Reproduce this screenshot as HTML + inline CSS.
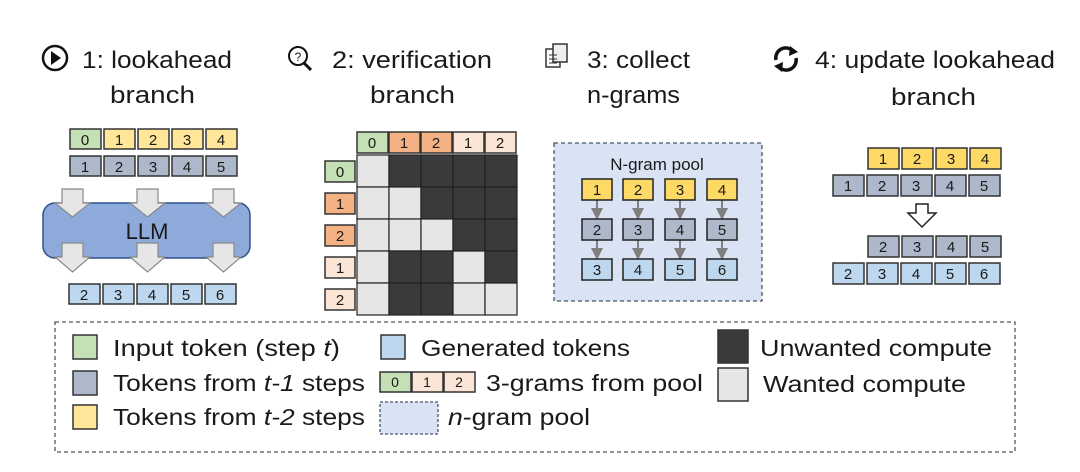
<!DOCTYPE html>
<html><head><meta charset="utf-8"><style>
html,body{margin:0;padding:0;background:#fff;}
svg{display:block;}
text{font-family:"Liberation Sans",sans-serif;fill:#1a1a1a;}
</style></head><body>
<svg width="1080" height="472" viewBox="0 0 1080 472" xmlns="http://www.w3.org/2000/svg">
<defs>
<marker id="ah" markerWidth="6" markerHeight="6" refX="3" refY="3" orient="auto"><path d="M0,0 L6,3 L0,6 z" fill="#7f7f7f"/></marker>
</defs>
<!-- Headers -->
<g font-size="24">
<circle cx="55" cy="58" r="12" fill="none" stroke="#111" stroke-width="2.5"/>
<path d="M51,51 L61,58 L51,65 z" fill="#111"/>
<text x="82" y="68" textLength="150" lengthAdjust="spacingAndGlyphs">1: lookahead</text>
<text x="110" y="103" textLength="85" lengthAdjust="spacingAndGlyphs">branch</text>

<circle cx="298" cy="56" r="9" fill="none" stroke="#111" stroke-width="2"/>
<line x1="304" y1="63" x2="311" y2="70" stroke="#111" stroke-width="3"/>
<text x="298" y="61" font-size="12" text-anchor="middle">?</text>
<text x="332" y="68" textLength="160" lengthAdjust="spacingAndGlyphs">2: verification</text>
<text x="370" y="103" textLength="85" lengthAdjust="spacingAndGlyphs">branch</text>

<rect x="546" y="49" width="14" height="18" fill="#fff" stroke="#333" stroke-width="1.5"/>
<rect x="553" y="44" width="14" height="18" fill="#eee" stroke="#333" stroke-width="1.5"/>
<line x1="549" y1="55" x2="557" y2="55" stroke="#333"/><line x1="549" y1="59" x2="557" y2="59" stroke="#333"/><line x1="549" y1="63" x2="557" y2="63" stroke="#333"/>
<text x="587" y="68" textLength="103" lengthAdjust="spacingAndGlyphs">3: collect</text>
<text x="587" y="103" textLength="93" lengthAdjust="spacingAndGlyphs">n-grams</text>

<path d="M776,60 A10,10 0 0 1 793,51" fill="none" stroke="#111" stroke-width="3.5"/>
<path d="M790,46 L798,52 L789,56 z" fill="#111"/>
<path d="M796,58 A10,10 0 0 1 779,67" fill="none" stroke="#111" stroke-width="3.5"/>
<path d="M782,72 L774,66 L783,62 z" fill="#111"/>
<text x="815" y="68" textLength="240" lengthAdjust="spacingAndGlyphs">4: update lookahead</text>
<text x="891" y="105" textLength="85" lengthAdjust="spacingAndGlyphs">branch</text>
</g>

<!-- Panel 1 -->
<g stroke="#333" stroke-width="1.5">
<rect x="70" y="129" width="31" height="20" fill="#c5e0b4"/>
<rect x="104" y="129" width="31" height="20" fill="#ffe699"/>
<rect x="138" y="129" width="31" height="20" fill="#ffe699"/>
<rect x="172" y="129" width="31" height="20" fill="#ffe699"/>
<rect x="206" y="129" width="31" height="20" fill="#ffe699"/>
<rect x="70" y="156" width="31" height="20" fill="#adb9ca"/>
<rect x="104" y="156" width="31" height="20" fill="#adb9ca"/>
<rect x="138" y="156" width="31" height="20" fill="#adb9ca"/>
<rect x="172" y="156" width="31" height="20" fill="#adb9ca"/>
<rect x="206" y="156" width="31" height="20" fill="#adb9ca"/>
<rect x="69" y="284" width="31" height="20" fill="#bdd7ee"/>
<rect x="103" y="284" width="31" height="20" fill="#bdd7ee"/>
<rect x="137" y="284" width="31" height="20" fill="#bdd7ee"/>
<rect x="171" y="284" width="31" height="20" fill="#bdd7ee"/>
<rect x="205" y="284" width="31" height="20" fill="#bdd7ee"/>
</g>
<g font-size="15" text-anchor="middle">
<text x="85" y="145">0</text><text x="119" y="145">1</text><text x="153" y="145">2</text><text x="187" y="145">3</text><text x="221" y="145">4</text>
<text x="85" y="172">1</text><text x="119" y="172">2</text><text x="153" y="172">3</text><text x="187" y="172">4</text><text x="221" y="172">5</text>
<text x="84" y="300">2</text><text x="118" y="300">3</text><text x="152" y="300">4</text><text x="186" y="300">5</text><text x="220" y="300">6</text>
</g>
<rect x="43" y="203" width="207" height="55" rx="12" fill="#8eaadb" stroke="#2f528f" stroke-width="1.5"/>
<text x="147" y="239" font-size="22" text-anchor="middle">LLM</text>
<g fill="#e7e6e6" stroke="#888" stroke-width="1.2">
<path d="M62,189 h21 v14 h7 l-17.5,14 l-17.5,-14 h7 z"/>
<path d="M137,189 h21 v14 h7 l-17.5,14 l-17.5,-14 h7 z"/>
<path d="M213,189 h21 v14 h7 l-17.5,14 l-17.5,-14 h7 z"/>
<path d="M62,243 h21 v14 h7 l-17.5,15 l-17.5,-15 h7 z"/>
<path d="M137,243 h21 v14 h7 l-17.5,15 l-17.5,-15 h7 z"/>
<path d="M213,243 h21 v14 h7 l-17.5,15 l-17.5,-15 h7 z"/>
</g>

<!-- Panel 2 grid -->
<g stroke="#333" stroke-width="1.5">
<rect x="357" y="132" width="31" height="21" fill="#c5e0b4"/>
<rect x="389" y="132" width="31" height="21" fill="#f4b183"/>
<rect x="421" y="132" width="31" height="21" fill="#f4b183"/>
<rect x="453" y="132" width="31" height="21" fill="#fbe5d6"/>
<rect x="485" y="132" width="31" height="21" fill="#fbe5d6"/>
<rect x="325" y="161" width="30" height="21" fill="#c5e0b4"/>
<rect x="325" y="193" width="30" height="21" fill="#f4b183"/>
<rect x="325" y="225" width="30" height="21" fill="#f4b183"/>
<rect x="325" y="257" width="30" height="21" fill="#fbe5d6"/>
<rect x="325" y="289" width="30" height="21" fill="#fbe5d6"/>
</g>
<g font-size="15" text-anchor="middle">
<text x="372" y="148">0</text><text x="404" y="148">1</text><text x="436" y="148">2</text><text x="468" y="148">1</text><text x="500" y="148">2</text>
<text x="340" y="177">0</text><text x="340" y="209">1</text><text x="340" y="241">2</text><text x="340" y="273">1</text><text x="340" y="305">2</text>
</g>
<g stroke="#222" stroke-width="1.2">
<rect x="357" y="155" width="32" height="32" fill="#e7e6e6"/><rect x="389" y="155" width="32" height="32" fill="#3a3a3a"/><rect x="421" y="155" width="32" height="32" fill="#3a3a3a"/><rect x="453" y="155" width="32" height="32" fill="#3a3a3a"/><rect x="485" y="155" width="32" height="32" fill="#3a3a3a"/>
<rect x="357" y="187" width="32" height="32" fill="#e7e6e6"/><rect x="389" y="187" width="32" height="32" fill="#e7e6e6"/><rect x="421" y="187" width="32" height="32" fill="#3a3a3a"/><rect x="453" y="187" width="32" height="32" fill="#3a3a3a"/><rect x="485" y="187" width="32" height="32" fill="#3a3a3a"/>
<rect x="357" y="219" width="32" height="32" fill="#e7e6e6"/><rect x="389" y="219" width="32" height="32" fill="#e7e6e6"/><rect x="421" y="219" width="32" height="32" fill="#e7e6e6"/><rect x="453" y="219" width="32" height="32" fill="#3a3a3a"/><rect x="485" y="219" width="32" height="32" fill="#3a3a3a"/>
<rect x="357" y="251" width="32" height="32" fill="#e7e6e6"/><rect x="389" y="251" width="32" height="32" fill="#3a3a3a"/><rect x="421" y="251" width="32" height="32" fill="#3a3a3a"/><rect x="453" y="251" width="32" height="32" fill="#e7e6e6"/><rect x="485" y="251" width="32" height="32" fill="#3a3a3a"/>
<rect x="357" y="283" width="32" height="32" fill="#e7e6e6"/><rect x="389" y="283" width="32" height="32" fill="#3a3a3a"/><rect x="421" y="283" width="32" height="32" fill="#3a3a3a"/><rect x="453" y="283" width="32" height="32" fill="#e7e6e6"/><rect x="485" y="283" width="32" height="32" fill="#e7e6e6"/>
</g>

<!-- Panel 3 -->
<rect x="554" y="143" width="208" height="158" fill="#dae3f3" stroke="#44546a" stroke-width="1.3" stroke-dasharray="4,3"/>
<text x="657" y="170" font-size="17" text-anchor="middle">N-gram pool</text>
<g stroke="#7f7f7f" stroke-width="2" marker-end="url(#ah)">
<line x1="597" y1="200" x2="597" y2="214"/><line x1="638" y1="200" x2="638" y2="214"/><line x1="680" y1="200" x2="680" y2="214"/><line x1="722" y1="200" x2="722" y2="214"/>
<line x1="597" y1="240" x2="597" y2="254"/><line x1="638" y1="240" x2="638" y2="254"/><line x1="680" y1="240" x2="680" y2="254"/><line x1="722" y1="240" x2="722" y2="254"/>
</g>
<g stroke="#222" stroke-width="1.5">
<rect x="582" y="179" width="30" height="21" fill="#ffd966"/><rect x="623" y="179" width="30" height="21" fill="#ffd966"/><rect x="665" y="179" width="30" height="21" fill="#ffd966"/><rect x="707" y="179" width="30" height="21" fill="#ffd966"/>
<rect x="582" y="219" width="30" height="21" fill="#adb9ca"/><rect x="623" y="219" width="30" height="21" fill="#adb9ca"/><rect x="665" y="219" width="30" height="21" fill="#adb9ca"/><rect x="707" y="219" width="30" height="21" fill="#adb9ca"/>
<rect x="582" y="259" width="30" height="21" fill="#bdd7ee"/><rect x="623" y="259" width="30" height="21" fill="#bdd7ee"/><rect x="665" y="259" width="30" height="21" fill="#bdd7ee"/><rect x="707" y="259" width="30" height="21" fill="#bdd7ee"/>
</g>
<g font-size="15" text-anchor="middle">
<text x="597" y="195">1</text><text x="638" y="195">2</text><text x="680" y="195">3</text><text x="722" y="195">4</text>
<text x="597" y="235">2</text><text x="638" y="235">3</text><text x="680" y="235">4</text><text x="722" y="235">5</text>
<text x="597" y="275">3</text><text x="638" y="275">4</text><text x="680" y="275">5</text><text x="722" y="275">6</text>
</g>

<!-- Panel 4 -->
<g stroke="#333" stroke-width="1.5">
<rect x="868" y="148" width="31" height="21" fill="#ffd966"/><rect x="902" y="148" width="31" height="21" fill="#ffd966"/><rect x="936" y="148" width="31" height="21" fill="#ffd966"/><rect x="970" y="148" width="31" height="21" fill="#ffd966"/>
<rect x="833" y="175" width="31" height="21" fill="#adb9ca"/><rect x="867" y="175" width="31" height="21" fill="#adb9ca"/><rect x="901" y="175" width="31" height="21" fill="#adb9ca"/><rect x="935" y="175" width="31" height="21" fill="#adb9ca"/><rect x="969" y="175" width="31" height="21" fill="#adb9ca"/>
<rect x="868" y="236" width="31" height="21" fill="#adb9ca"/><rect x="902" y="236" width="31" height="21" fill="#adb9ca"/><rect x="936" y="236" width="31" height="21" fill="#adb9ca"/><rect x="970" y="236" width="31" height="21" fill="#adb9ca"/>
<rect x="833" y="263" width="31" height="21" fill="#bdd7ee"/><rect x="867" y="263" width="31" height="21" fill="#bdd7ee"/><rect x="901" y="263" width="31" height="21" fill="#bdd7ee"/><rect x="935" y="263" width="31" height="21" fill="#bdd7ee"/><rect x="969" y="263" width="31" height="21" fill="#bdd7ee"/>
</g>
<g font-size="15" text-anchor="middle">
<text x="883" y="164">1</text><text x="917" y="164">2</text><text x="951" y="164">3</text><text x="985" y="164">4</text>
<text x="848" y="191">1</text><text x="882" y="191">2</text><text x="916" y="191">3</text><text x="950" y="191">4</text><text x="984" y="191">5</text>
<text x="883" y="252">2</text><text x="917" y="252">3</text><text x="951" y="252">4</text><text x="985" y="252">5</text>
<text x="848" y="279">2</text><text x="882" y="279">3</text><text x="916" y="279">4</text><text x="950" y="279">5</text><text x="984" y="279">6</text>
</g>
<path d="M916,204 h12 v9 h8 l-14,14 l-14,-14 h8 z" fill="#fff" stroke="#222" stroke-width="1.5"/>

<!-- Legend -->
<rect x="55" y="322" width="960" height="130" fill="none" stroke="#555" stroke-width="1.3" stroke-dasharray="4,3"/>
<g stroke="#333" stroke-width="1.5">
<rect x="73" y="335" width="24" height="24" fill="#c5e0b4"/>
<rect x="73" y="371" width="24" height="24" fill="#adb9ca"/>
<rect x="73" y="405" width="24" height="24" fill="#ffe699"/>
<rect x="381" y="335" width="24" height="24" fill="#bdd7ee"/>
<rect x="380" y="372" width="31" height="20" fill="#c5e0b4"/>
<rect x="412" y="372" width="31" height="20" fill="#fbe5d6"/>
<rect x="444" y="372" width="31" height="20" fill="#fbe5d6"/>
<rect x="718" y="330" width="30" height="33" fill="#3a3a3a"/>
<rect x="718" y="368" width="30" height="33" fill="#e7e6e6"/>
</g>
<rect x="380" y="402" width="58" height="32" fill="#dae3f3" stroke="#44546a" stroke-width="1.3" stroke-dasharray="3,2"/>
<g font-size="14" text-anchor="middle"><text x="395" y="387">0</text><text x="427" y="387">1</text><text x="459" y="387">2</text></g>
<g font-size="23">
<text x="113" y="356" textLength="227" lengthAdjust="spacingAndGlyphs">Input token (step <tspan font-style="italic">t</tspan>)</text>
<text x="113" y="391" textLength="252" lengthAdjust="spacingAndGlyphs">Tokens from <tspan font-style="italic">t-1</tspan> steps</text>
<text x="113" y="425" textLength="252" lengthAdjust="spacingAndGlyphs">Tokens from <tspan font-style="italic">t-2</tspan> steps</text>
<text x="421" y="356" textLength="209" lengthAdjust="spacingAndGlyphs">Generated tokens</text>
<text x="486" y="391" textLength="217" lengthAdjust="spacingAndGlyphs">3-grams from pool</text>
<text x="448" y="425" textLength="142" lengthAdjust="spacingAndGlyphs"><tspan font-style="italic">n</tspan>-gram pool</text>
<text x="760" y="356" textLength="232" lengthAdjust="spacingAndGlyphs">Unwanted compute</text>
<text x="763" y="392" textLength="203" lengthAdjust="spacingAndGlyphs">Wanted compute</text>
</g>
</svg>
</body></html>
